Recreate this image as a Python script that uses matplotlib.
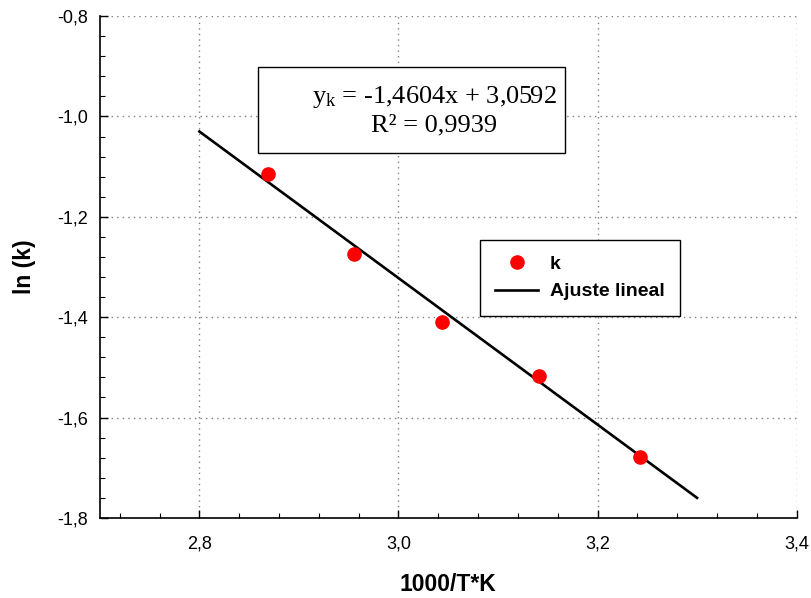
import matplotlib.pyplot as plt
from matplotlib.ticker import MultipleLocator, FuncFormatter
from matplotlib.patches import Rectangle

# datos experimentales
inv_T = [2.869, 2.955, 3.044, 3.141, 3.243]
ln_k = [-1.114, -1.274, -1.410, -1.518, -1.678]

# ajuste lineal
slope = -1.4604
intercept = 3.0592
r2 = 0.9939
fit_x = [2.8, 3.3]
fit_y = [slope * x + intercept for x in fit_x]

plt.rcParams['font.family'] = ['Liberation Sans', 'DejaVu Sans']

fig = plt.figure(figsize=(8.12, 5.98), dpi=100)
ax = fig.add_axes([0.123, 0.134, 0.858, 0.839])

ax.plot(fit_x, fit_y, color='black', linewidth=1.9, label='Ajuste lineal', zorder=3)
ax.plot(inv_T, ln_k, 'o', color='#ff0000', markersize=9.5, label='k', zorder=4)

ax.set_xlim(2.7, 3.4)
ax.set_ylim(-1.8, -0.8)
ax.xaxis.set_major_locator(MultipleLocator(0.2))
ax.xaxis.set_minor_locator(MultipleLocator(0.04))
ax.yaxis.set_major_locator(MultipleLocator(0.2))
ax.yaxis.set_minor_locator(MultipleLocator(0.04))
comma = FuncFormatter(lambda v, p: f"{v:.1f}".replace('.', ','))
ax.xaxis.set_major_formatter(comma)
ax.yaxis.set_major_formatter(comma)

ax.tick_params(which='both', direction='in', top=False, right=False, labelsize=13)
ax.tick_params(which='major', length=6, width=1.0)
ax.tick_params(which='minor', length=3.5, width=0.8)
ax.tick_params(axis='y', pad=8.5)
ax.tick_params(axis='x', pad=13)

ax.grid(True, which='major', linestyle=(0, (1, 3)), color='gray', linewidth=1.0)
ax.spines['top'].set_visible(False)
ax.spines['right'].set_visible(False)
ax.spines['left'].set_linewidth(1.2)
ax.spines['bottom'].set_linewidth(1.2)

ax.set_xlabel('1000/T*K', fontsize=16.5, fontweight='bold')
ax.set_ylabel('ln (k)', fontsize=16.5, fontweight='bold')
ax.xaxis.set_label_coords(0.5, -0.11)
ax.yaxis.set_label_coords(-0.091, 0.5)

# recuadro con la ecuacion
ax.add_patch(Rectangle((0.227, 0.727), 0.44, 0.171, transform=ax.transAxes,
                       facecolor='white', edgecolor='black', linewidth=1.0, zorder=5))
eq = (f"y$\\mathregular{{_k}}$ = {slope:.4f}x + {intercept:.4f}".replace('.', ',')
      + "\n" + f"R² = {r2:.4f}".replace('.', ','))
ax.text(0.48, 0.813, eq, transform=ax.transAxes, ha='center', va='center',
        fontsize=19, family=['Liberation Serif', 'DejaVu Serif'], linespacing=1.24, zorder=6)

# leyenda: k primero
handles, labels = ax.get_legend_handles_labels()
leg = ax.legend(handles[::-1], labels[::-1], loc='upper left', bbox_to_anchor=(0.545, 0.554),
                fancybox=False, edgecolor='black', framealpha=1, numpoints=1,
                prop={'weight': 'bold', 'size': 14}, handlelength=2.2, handletextpad=0.6,
                borderpad=0.8, labelspacing=0.5, borderaxespad=0)
leg.get_frame().set_linewidth(1.0)

fig.savefig('out.png', dpi=100)
